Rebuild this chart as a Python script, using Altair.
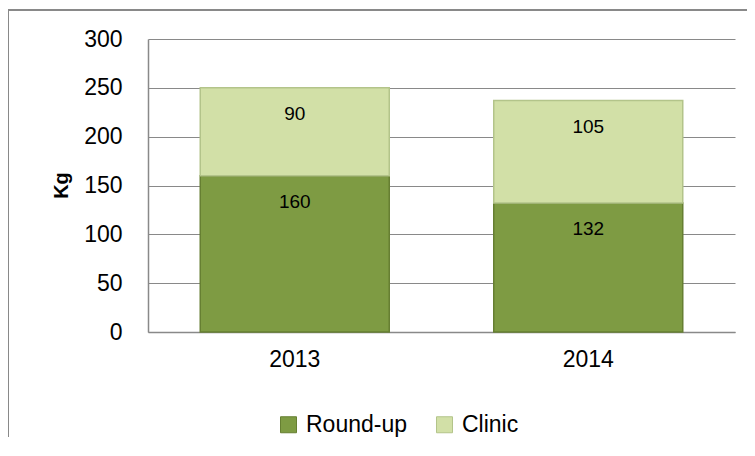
import altair as alt
import pandas as pd

years = ["2013", "2014"]
series = ["Round-up", "Clinic"]
roundup = [160, 132]
clinic = [90, 105]
colors = ["#7E9B43", "#D2E0A7"]
strokes = ["#667F32", "#B3C48A"]

rows = []
for i, y in enumerate(years):
    rows.append({"year": y, "series": "Round-up", "value": roundup[i], "ord": 0})
    rows.append({"year": y, "series": "Clinic", "value": clinic[i], "ord": 1})
df = pd.DataFrame(rows)

FONT = "Liberation Sans"

base = alt.Chart(df).transform_stack(
    stack="value", groupby=["year"], as_=["y0", "y1"], sort=[alt.SortField("ord")]
)

xenc = alt.X(
    "year:N",
    title=None,
    scale=alt.Scale(paddingInner=0, paddingOuter=0),
    axis=alt.Axis(
        labelAngle=0, ticks=False, labelPadding=16, labelFontSize=23,
        labelFont=FONT, labelColor="#000000", domainColor="#898989",
        domainWidth=1.5, grid=False,
    ),
)
yenc = alt.Y(
    "y1:Q",
    title="Kg",
    scale=alt.Scale(domain=[0, 300], nice=False),
    axis=alt.Axis(
        values=[0, 50, 100, 150, 200, 250, 300], ticks=False, labelPadding=26,
        labelFontSize=23, labelFont=FONT, labelColor="#000000",
        domainColor="#898989", domainWidth=1.5, gridColor="#898989", gridWidth=1.2,
        titleFont=FONT, titleFontSize=20, titleFontWeight="bold", titleColor="#000000",
        titleX=-87, titleY=146, titleAlign="center", titleBaseline="middle", titleAngle=-90,
    ),
)

bars = base.mark_bar(size=189, strokeWidth=1.5).encode(
    x=xenc,
    y=yenc,
    y2="y0:Q",
    color=alt.Color(
        "series:N",
        scale=alt.Scale(domain=series, range=colors),
        legend=alt.Legend(
            title=None, orient="none", direction="horizontal", legendX=129, legendY=374,
            symbolType="square", symbolSize=256, symbolStrokeWidth=1,
            symbolStrokeColor="#5a6e2e",
            labelFont=FONT, labelFontSize=23, labelColor="#000000",
            labelOffset=6, columnPadding=25, symbolOpacity=1,
        ),
    ),
    stroke=alt.Stroke("series:N", scale=alt.Scale(domain=series, range=strokes), legend=None),
)

labels = base.mark_text(dy=26, fontSize=19, font=FONT, color="#000000").encode(
    x="year:N",
    y="y1:Q",
    text="value:Q",
)

border_top = alt.Chart(df).mark_rule(color="#898989", strokeWidth=2).encode(
    x=alt.value(-140), x2=alt.value(620), y=alt.value(-29)
)
border_left = alt.Chart(df).mark_rule(color="#898989", strokeWidth=2).encode(
    x=alt.value(-140), y=alt.value(-29), y2=alt.value(420)
)

chart = alt.layer(border_top, border_left, bars, labels).properties(
    width=587, height=293,
    padding={"left": 140, "top": 31, "right": 12, "bottom": 105},
    autosize=alt.AutoSizeParams(type="none"),
).configure_view(stroke=None)

chart.save("out.html", embed_options={"renderer": "svg", "actions": False})
